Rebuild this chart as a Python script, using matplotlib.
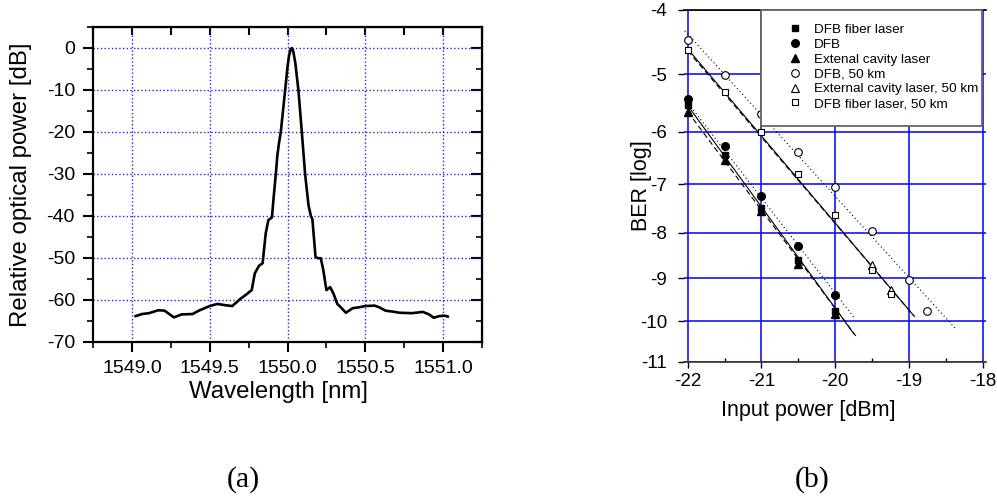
import numpy as np
import matplotlib
matplotlib.use('Agg')
import matplotlib.pyplot as plt
from matplotlib.patches import Rectangle
from math import erfc

# (a) optical spectrum
wavelength = [1549.024, 1549.066, 1549.11, 1549.17, 1549.21, 1549.27, 1549.32, 1549.39,
              1549.43, 1549.50, 1549.55, 1549.60, 1549.645, 1549.70, 1549.73, 1549.77,
              1549.79, 1549.817, 1549.84, 1549.86, 1549.877, 1549.90, 1549.91, 1549.925,
              1549.935, 1549.946, 1549.957, 1549.985, 1550.0, 1550.01, 1550.02, 1550.028,
              1550.036, 1550.05, 1550.07, 1550.092, 1550.113, 1550.135, 1550.15, 1550.16,
              1550.18, 1550.196, 1550.214, 1550.23, 1550.25, 1550.274, 1550.295, 1550.32,
              1550.34, 1550.375, 1550.42, 1550.46, 1550.50, 1550.56, 1550.59, 1550.63,
              1550.69, 1550.72, 1550.80, 1550.87, 1550.91, 1550.94, 1550.975, 1551.01,
              1551.03]
power_db = [-63.9, -63.4, -63.2, -62.5, -62.6, -64.2, -63.5, -63.4,
            -62.6, -61.5, -61.0, -61.3, -61.5, -59.7, -58.9, -57.7,
            -53.7, -51.9, -51.3, -44.2, -41.0, -40.4, -36.0, -30.0,
            -25.5, -22.5, -20.0, -10.0, -4.5, -1.8, -0.4, 0.0,
            -0.6, -3.5, -10.0, -20.0, -30.0, -37.5, -40.0, -40.8,
            -49.8, -50.1, -50.1, -52.9, -57.7, -57.0, -58.5, -61.0,
            -61.7, -63.1, -62.0, -61.8, -61.5, -61.4, -61.8, -62.6,
            -62.9, -63.1, -63.2, -62.9, -63.5, -64.3, -63.9, -63.8,
            -64.0]

# (b) BER measurements, log10(BER) vs input power [dBm]
p_fiber = [-22, -21.5, -21, -20.5, -20]
ber_fiber = [-5.53, -6.43, -7.47, -8.58, -9.77]
p_dfb = [-22, -21.5, -21, -20.5, -20]
ber_dfb = [-5.41, -6.27, -7.24, -8.28, -9.38]
p_ecl = [-22, -21.5, -21, -20.5, -20]
ber_ecl = [-5.64, -6.52, -7.54, -8.67, -9.82]
p_dfb50 = [-22, -21.5, -21, -20.5, -20, -19.5, -19, -18.75]
ber_dfb50 = [-4.45, -5.02, -5.68, -6.38, -7.05, -7.96, -9.03, -9.77]
p_ecl50 = [-19.5, -19.25]
ber_ecl50 = [-8.69, -9.27]
p_fiber50 = [-22, -21.5, -21, -20.5, -20, -19.5, -19.25]
ber_fiber50 = [-4.60, -5.29, -6.01, -6.79, -7.63, -8.82, -9.37]

# fitted lines (end points)
fit_fiber_x, fit_fiber_y = [-22.0, -19.75], [-5.53, -10.30]
fit_dfb_x, fit_dfb_y = [-22.02, -19.75], [-5.45, -9.90]
fit_ecl_x, fit_ecl_y = [-22.0, -19.72], [-5.64, -10.36]
fit_dfb50_x, fit_dfb50_y = [-22.04, -18.37], [-4.31, -10.18]
fit_ecl50_x, fit_ecl50_y = [-22.0, -18.92], [-4.62, -9.90]
fit_fiber50_x, fit_fiber50_y = [-22.0, -18.94], [-4.59, -9.86]

legend_labels = ['DFB fiber laser', 'DFB', 'Extenal cavity laser', 'DFB, 50 km',
                 'External cavity laser, 50 km', 'DFB fiber laser, 50 km']

plt.rcParams['font.family'] = ['Liberation Sans', 'DejaVu Sans']
plt.rcParams['axes.unicode_minus'] = False

# Q-factor scale for BER axis
_erfc = np.vectorize(erfc, otypes=[float])


def ber_from_q(q):
    return 0.5 * _erfc(np.asarray(q, dtype=float) / np.sqrt(2))


def q_from_logber(v):
    v = np.clip(np.asarray(v, dtype=float), -300, -0.31)
    p = 10.0 ** v
    lo = np.zeros_like(p)
    hi = np.full_like(p, 40.0)
    for _ in range(60):
        mid = 0.5 * (lo + hi)
        big = ber_from_q(mid) > p
        lo = np.where(big, mid, lo)
        hi = np.where(big, hi, mid)
    return 0.5 * (lo + hi)


def fwd(v):
    return -q_from_logber(v)


def inv(y):
    q = np.clip(-np.asarray(y, dtype=float), 0, 37)
    return np.log10(ber_from_q(q))


W, H = 997, 498
fig = plt.figure(figsize=(W / 100, H / 100), dpi=100)


def rect(l, t, r, b):
    return [l / W, 1 - b / H, (r - l) / W, (b - t) / H]


# ---------- (a) ----------
ax1 = fig.add_axes(rect(93, 27, 482, 341.7))
ax1.plot(wavelength, power_db, color='black', lw=1.9)
ax1.set_xlim(1548.75, 1551.25)
ax1.set_ylim(-70, 5)
ax1.set_xticks(np.arange(1549.0, 1551.01, 0.5))
ax1.set_xticks(np.arange(1548.75, 1551.26, 0.25), minor=True)
ax1.set_xticklabels(['%.1f' % t for t in np.arange(1549.0, 1551.01, 0.5)])
ax1.set_yticks(np.arange(-70, 1, 10))
ax1.set_yticks(np.arange(-70, 6, 5), minor=True)
ax1.grid(True, which='major', color='#2020ff', linestyle=':', lw=1.0)
ax1.tick_params(which='major', direction='out', length=7, width=1.5, labelsize=14, pad=6)
ax1.tick_params(which='minor', direction='out', length=4, width=1.2)
for s in ax1.spines.values():
    s.set_linewidth(1.6)
ax1.set_xlabel('Wavelength [nm]', fontsize=17.3)
ax1.xaxis.set_label_coords(0.478, -0.125)
ax1.xaxis.label.set_va('top')
ax1.set_ylabel('Relative optical power [dB]', fontsize=17.3)
ax1.yaxis.set_label_coords(-0.157, 0.5)

top1 = ax1.secondary_xaxis('top')
top1.set_xticks(np.arange(1549.0, 1551.01, 0.5))
top1.set_xticks(np.arange(1548.75, 1551.26, 0.25), minor=True)
top1.tick_params(which='both', direction='in', length=6, width=1.5, labeltop=False)
right1 = ax1.secondary_yaxis('right')
right1.set_yticks(np.arange(-70, 1, 10))
right1.set_yticks(np.arange(-70, 6, 5), minor=True)
right1.tick_params(which='major', direction='in', length=8, width=1.5, labelright=False)
right1.tick_params(which='minor', direction='in', length=4, width=1.2)

# ---------- (b) ----------
ax2 = fig.add_axes(rect(684, 10, 985.7, 361.7))
ax2.set_yscale('function', functions=(fwd, inv))
ax2.set_xlim(-22.05, -17.96)
ax2.set_ylim(-11, -4)
ax2.set_xticks([-22, -21, -20, -19, -18])
ax2.set_xticks([-21.5, -20.5, -19.5, -18.5], minor=True)
ax2.set_yticks(np.arange(-11, -3, 1))
ax2.set_yticklabels([str(t) for t in range(-11, -3)])
ax2.yaxis.set_minor_locator(matplotlib.ticker.NullLocator())
ax2.grid(True, which='major', color='#0000ff', lw=1.1)
ax2.set_axisbelow(True)
ax2.spines['left'].set_visible(False)
ax2.spines['right'].set_visible(False)
ax2.spines['top'].set_linewidth(1.2)
ax2.spines['bottom'].set_linewidth(1.2)
ax2.spines['bottom'].set_color('#333333')
ax2.tick_params(axis='x', which='major', direction='out', length=4, width=1, labelsize=13.5, pad=4)
ax2.tick_params(axis='x', which='minor', direction='in', length=3, width=1)
ax2.tick_params(axis='y', which='major', direction='out', length=4, width=1, labelsize=13.5, pad=8)

lw = 0.8
ax2.plot(fit_fiber_x, fit_fiber_y, color='black', lw=lw)
ax2.plot(fit_dfb_x, fit_dfb_y, color='black', lw=lw, ls=(0, (1, 2.5)))
ax2.plot(fit_ecl_x, fit_ecl_y, color='black', lw=lw, ls=(0, (5, 3)))
ax2.plot(fit_dfb50_x, fit_dfb50_y, color='black', lw=lw, ls=(0, (1, 2.5)))
ax2.plot(fit_ecl50_x, fit_ecl50_y, color='black', lw=lw, ls=(0, (5, 3)))
ax2.plot(fit_fiber50_x, fit_fiber50_y, color='black', lw=lw)

ms = 5.5
h1, = ax2.plot(p_ecl, ber_ecl, '^', color='black', ms=ms + 0.5, ls='none')
h2, = ax2.plot(p_fiber, ber_fiber, 's', color='black', ms=ms - 0.5, ls='none')
h3, = ax2.plot(p_dfb, ber_dfb, 'o', color='black', ms=ms, ls='none')
h4, = ax2.plot(p_dfb50, ber_dfb50, 'o', mfc='white', mec='black', mew=0.8, ms=ms, ls='none')
h5, = ax2.plot(p_ecl50, ber_ecl50, '^', mfc='white', mec='black', mew=0.8, ms=ms + 0.5, ls='none')
h6, = ax2.plot(p_fiber50, ber_fiber50, 's', mfc='white', mec='black', mew=0.8, ms=ms - 0.5, ls='none')
for h in (h1, h2, h3, h4, h5, h6):
    h.set_clip_on(False)

box_l = (760.7 - 684) / (985.7 - 684)
box_b = (361.7 - 126) / 351.7
ax2.add_patch(Rectangle((box_l, box_b), (981.7 - 760.7) / (985.7 - 684), 1 - box_b,
                        transform=ax2.transAxes, facecolor='white', edgecolor='#666666',
                        lw=1.3, zorder=4.5, clip_on=False))
leg = ax2.legend([h2, h3, h1, h4, h5, h6], legend_labels, loc='upper left',
                 bbox_to_anchor=((788.3 - 684) / (985.7 - 684), (361.7 - 23.5) / 351.7),
                 frameon=False, fontsize=9.7, borderpad=0, borderaxespad=0,
                 handlelength=1.0, handletextpad=0.9, labelspacing=0.18, numpoints=1)
leg.set_zorder(5)

ax2.set_xlabel('Input power [dBm]', fontsize=15.5)
ax2.xaxis.set_label_coords((808 - 684) / (985.7 - 684), -0.109)
ax2.xaxis.label.set_va('top')
ax2.set_ylabel('BER [log]', fontsize=15.5)
ax2.yaxis.set_label_coords((652 - 684) / (985.7 - 684), 0.5)

fig.text(243 / W, 1 - 480 / H, '(a)', family='Liberation Serif', fontsize=21.5, ha='center', va='center')
fig.text(812 / W, 1 - 480 / H, '(b)', family='Liberation Serif', fontsize=21.5, ha='center', va='center')

fig.savefig('out.png', dpi=100)
